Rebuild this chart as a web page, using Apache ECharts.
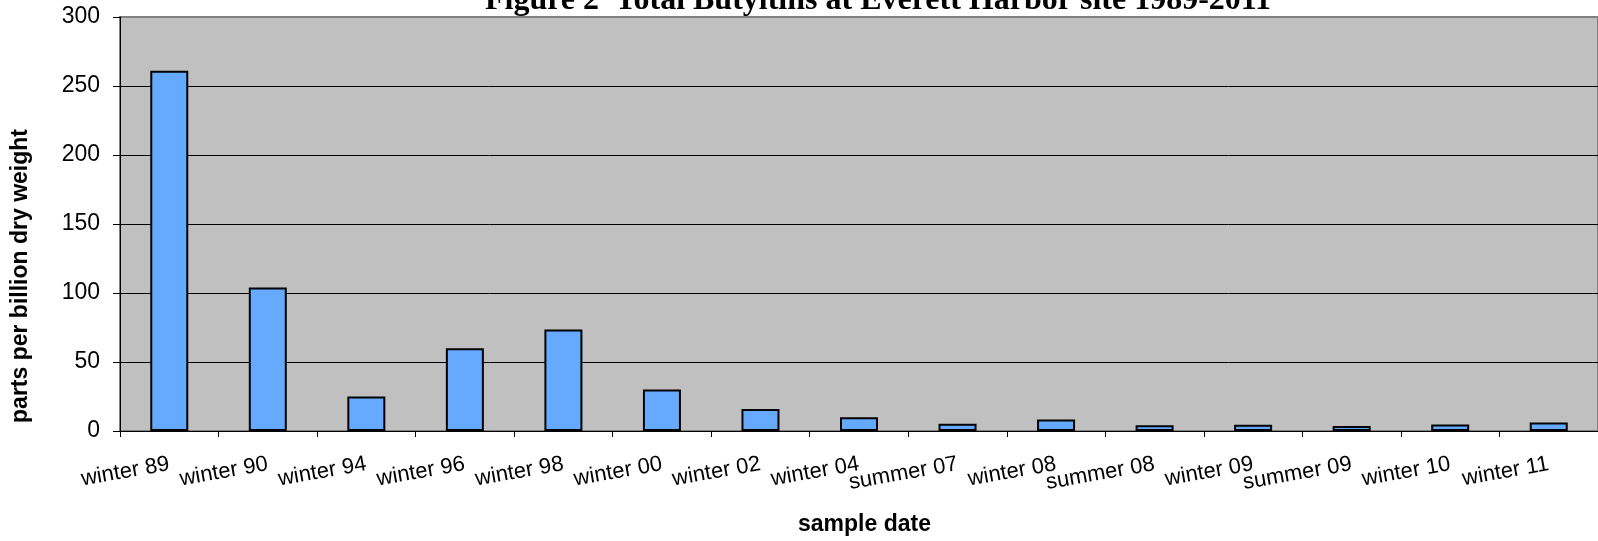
<!DOCTYPE html>
<html>
<head>
<meta charset="utf-8">
<script src="https://cdn.jsdelivr.net/npm/echarts@6/dist/echarts.min.js"></script>
<style>
  html, body { margin: 0; padding: 0; background: #fff; }
  #chart { width: 1598px; height: 541px; }
</style>
</head>
<body>
<div id="chart"></div>
<script>
// Sample dates and total butyltin concentrations (ppb dry weight)
const categories = [
  'winter 89', 'winter 90', 'winter 94', 'winter 96', 'winter 98',
  'winter 00', 'winter 02', 'winter 04', 'summer 07', 'winter 08',
  'summer 08', 'winter 09', 'summer 09', 'winter 10', 'winter 11'
];
const butyltins = [261, 104, 25, 60, 73.5, 30, 16, 10, 5.2, 8.3, 4.1, 4.5, 3.6, 4.8, 6.2];

const titleText = 'Figure 2  Total Butyltins at Everett Harbor site 1989-2011';
const xName = 'sample date';
const yName = 'parts per billion dry weight';
const yMin = 0, yMax = 300, yStep = 50;

const chart = echarts.init(document.getElementById('chart'));
chart.setOption({
  animation: false,
  backgroundColor: '#ffffff',
  title: {
    text: titleText,
    left: 485,
    top: -15,
    padding: 0,
    textStyle: {
      fontFamily: '"Liberation Serif", "Times New Roman", serif',
      fontWeight: 'bold',
      fontSize: 32,
      color: '#000'
    }
  },
  grid: {
    left: 120,
    top: 17,
    right: -11,
    bottom: 98,
    show: true,
    backgroundColor: '#C0C0C0',
    borderColor: '#808080',
    borderWidth: 2
  },
  xAxis: {
    type: 'category',
    data: categories,
    name: xName,
    nameLocation: 'middle',
    nameGap: 82,
    nameTextStyle: {
      fontFamily: '"Liberation Sans", Arial, sans-serif',
      fontWeight: 'bold',
      fontSize: 23,
      color: '#000',
      padding: [0, 0, 0, 11]
    },
    axisLine: { show: true, lineStyle: { color: '#000', width: 1 } },
    axisTick: { show: true, length: 6, lineStyle: { color: '#000' } },
    axisLabel: {
      rotate: 10,
      interval: 0,
      margin: 33,
      fontFamily: '"Liberation Sans", Arial, sans-serif',
      fontSize: 22,
      color: '#000'
    },
    splitLine: { show: false }
  },
  yAxis: {
    type: 'value',
    min: yMin,
    max: yMax,
    interval: yStep,
    name: yName,
    nameLocation: 'middle',
    nameGap: 88,
    nameTextStyle: {
      fontFamily: '"Liberation Sans", Arial, sans-serif',
      fontWeight: 'bold',
      fontSize: 23,
      color: '#000',
      padding: [0, 104, 0, 0]
    },
    axisLine: { show: true, lineStyle: { color: '#000', width: 1 } },
    axisTick: { show: true, length: 7, lineStyle: { color: '#000' } },
    axisLabel: {
      margin: 20,
      fontFamily: '"Liberation Sans", Arial, sans-serif',
      fontSize: 23,
      color: '#000'
    },
    splitLine: {
      show: true,
      showMaxLine: false,
      lineStyle: { color: '#000', width: 1 }
    }
  },
  series: [{
    type: 'bar',
    data: butyltins,
    barWidth: 38,
    itemStyle: {
      color: '#66AAFF',
      borderColor: '#000',
      borderWidth: 2
    }
  }]
});
</script>
</body>
</html>
